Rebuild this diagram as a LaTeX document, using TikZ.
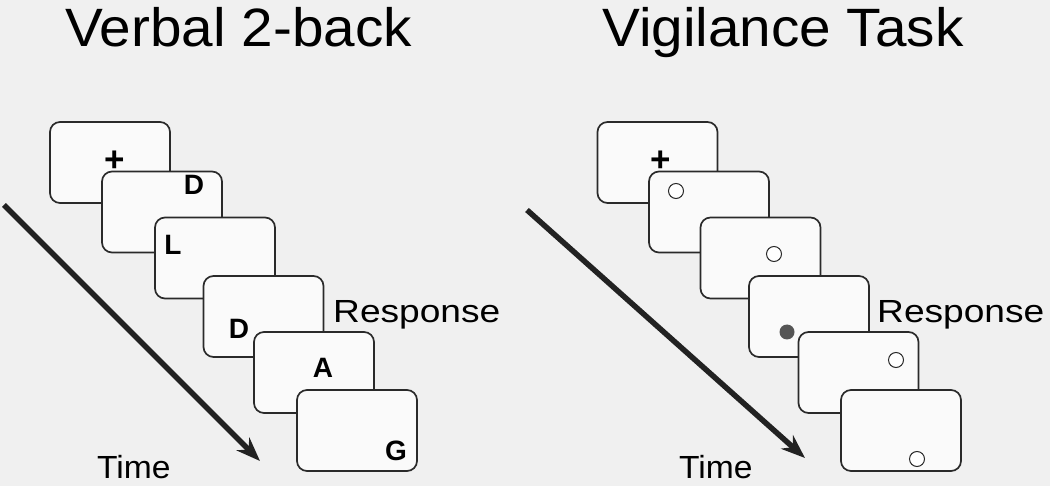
\documentclass[tikz,border=0pt]{standalone}
\usepackage{fontspec}
\setmainfont{Liberation Sans}
\usepackage{graphicx}
\usetikzlibrary{arrows.meta}

\definecolor{bgcol}{HTML}{F0F0F0}
\definecolor{screencol}{HTML}{FAFAFA}
\definecolor{edgecol}{HTML}{2A2A2A}
\definecolor{dotcol}{HTML}{555555}

\tikzset{
	screen/.style={draw=edgecol, fill=screencol, line width=1.7pt, rounded corners=10pt,
		minimum width=120pt, minimum height=81pt, inner sep=0pt},
	stim/.style={font=\fontsize{28}{28}\selectfont\bfseries, inner sep=0pt},
	title/.style={font=\fontsize{54}{60}\selectfont, anchor=base west, inner sep=0pt},
	label/.style={font=\fontsize{32}{36}\selectfont, anchor=base west, inner sep=0pt},
	target/.style={circle, draw=edgecol, fill=white, line width=1pt, minimum size=15pt, inner sep=0pt},
	hit/.style={circle, fill=dotcol, minimum size=15pt, inner sep=0pt},
	timeline/.style={draw=edgecol!80!black, line width=5.5pt, -{Stealth[length=24pt,width=18pt]}}
}

\begin{document}
\begin{tikzpicture}[x=1pt, y=-1pt]

	\fill[bgcol] (0,0) rectangle (1050,486);
	\useasboundingbox (0,0) rectangle (1050,486);

	% titles
	\node[title] (t_v) at (65,47) {\scalebox{1.05}[1]{Verbal 2-back}};
	\node[title] (t_g) at (602,47) {\scalebox{1.05}[1]{Vigilance Task}};

	% time arrows
	\coordinate (a_0) at (4,205);
	\coordinate (a_1) at (260,461);
	\coordinate (b_0) at (527,210);
	\coordinate (b_1) at (805,458);
	\draw[timeline] (a_0) -- (a_1);
	\draw[timeline] (b_0) -- (b_1);

	% verbal 2-back screens
	\foreach \s/\x/\y in {1/110/162.5, 2/162/212, 3/215/258, 4/263.5/316.5, 5/314/372.5, 6/357/430.5}
	{
		\node[screen] (v_\s) at (\x,\y) {};
	}
	\node[stim] (v_c) at (115,161) {\scalebox{1.25}{+}};
	\node[stim] (v_l2) at (194,185) {D};
	\node[stim] (v_l3) at (173,245) {L};
	\node[stim] (v_l4) at (239,329) {D};
	\node[stim] (v_l5) at (323,368) {A};
	\node[stim] (v_l6) at (396,451) {G};

	% vigilance screens
	\foreach \s/\x/\y in {1/657.5/162.5, 2/709/212, 3/760.5/258, 4/809/316.5, 5/858.5/372.5, 6/901/430.5}
	{
		\node[screen] (g_\s) at (\x,\y) {};
	}
	\node[stim] (g_c) at (661,161) {\scalebox{1.25}{+}};
	\node[target] (g_o2) at (676,191) {};
	\node[target] (g_o3) at (774,254) {};
	\node[hit] (g_o4) at (787,332) {};
	\node[target] (g_o5) at (896,360) {};
	\node[target] (g_o6) at (917,459) {};

	% labels
	\node[label] (r_v) at (333,323) {\scalebox{1.16}[1]{Response}};
	\node[label] (r_g) at (877,323) {\scalebox{1.16}[1]{Response}};
	\node[label] (m_v) at (97,478) {\scalebox{1.05}[1]{Time}};
	\node[label] (m_g) at (679,478) {\scalebox{1.05}[1]{Time}};

\end{tikzpicture}
\end{document}
